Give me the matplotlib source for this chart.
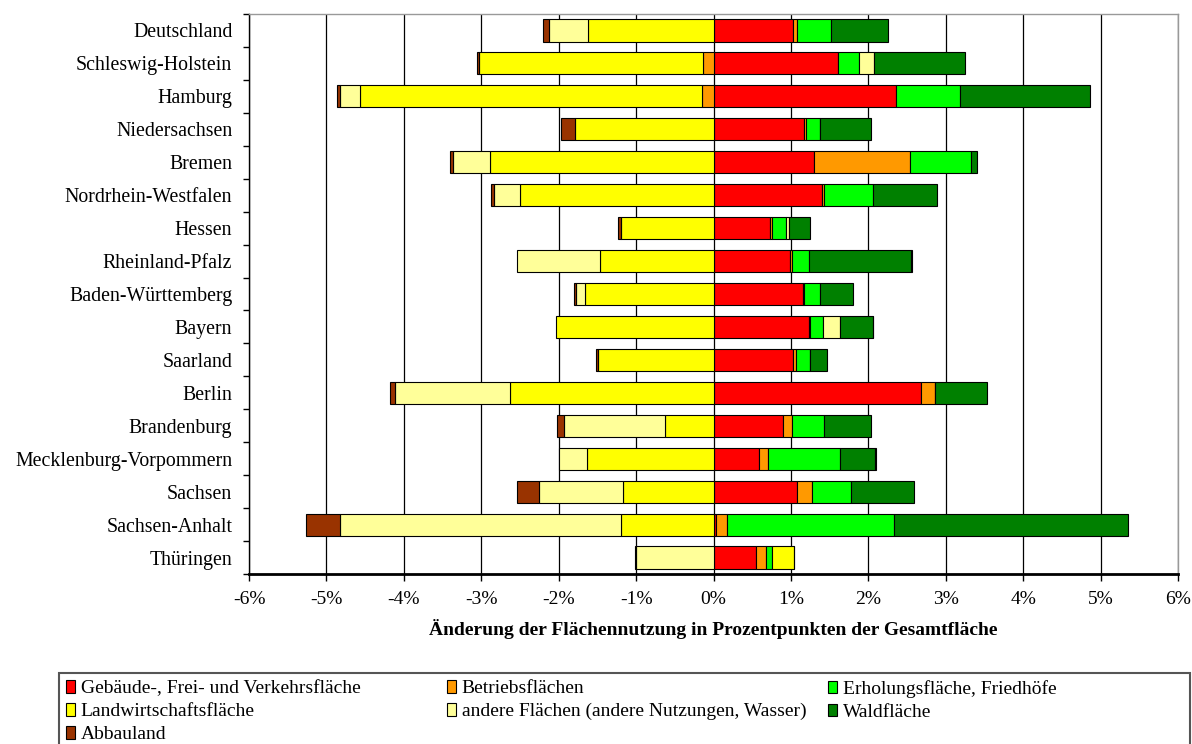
from matplotlib import pyplot as plt
from matplotlib.patches import Rectangle

plt.rcParams['font.family'] = ['Liberation Serif', 'DejaVu Serif']

states = ["Deutschland", "Schleswig-Holstein", "Hamburg", "Niedersachsen", "Bremen",
          "Nordrhein-Westfalen", "Hessen", "Rheinland-Pfalz", "Baden-Württemberg", "Bayern",
          "Saarland", "Berlin", "Brandenburg", "Mecklenburg-Vorpommern", "Sachsen",
          "Sachsen-Anhalt", "Thüringen"]

# change in percentage points of total area, per state (order as above)
gebaeude = [1.03, 1.61, 2.36, 1.17, 1.30, 1.40, 0.73, 0.99, 1.15, 1.23, 1.03, 2.68, 0.90, 0.59, 1.08, 0.03, 0.55]
betrieb = [0.05, -0.13, -0.15, 0.02, 1.24, 0.03, 0.03, 0.03, 0.02, 0.02, 0.03, 0.18, 0.12, 0.11, 0.19, 0.15, 0.13]
erholung = [0.44, 0.27, 0.83, 0.19, 0.79, 0.63, 0.18, 0.22, 0.20, 0.17, 0.19, 0.0, 0.41, 0.94, 0.51, 2.15, 0.08]
landw = [-1.62, -2.90, -4.42, -1.79, -2.89, -2.50, -1.20, -1.46, -1.66, -2.03, -1.49, -2.63, -0.63, -1.63, -1.17, -1.19, 0.28]
andere = [-0.51, 0.19, -0.25, 0.0, -0.48, -0.34, 0.03, -1.08, -0.11, 0.22, 0.0, -1.49, -1.30, -0.37, -1.09, -3.64, -1.00]
wald = [0.73, 1.18, 1.67, 0.65, 0.08, 0.83, 0.28, 1.31, 0.43, 0.42, 0.22, 0.67, 0.61, 0.44, 0.81, 3.02, 0.0]
abbau = [-0.07, -0.03, -0.04, -0.18, -0.03, -0.03, -0.03, 0.02, -0.03, 0.0, -0.03, -0.06, -0.09, 0.02, -0.28, -0.43, -0.02]

seriesNames = ["Gebäude-, Frei- und Verkehrsfläche", "Betriebsflächen", "Erholungsfläche, Friedhöfe",
               "Landwirtschaftsfläche", "andere Flächen (andere Nutzungen, Wasser)", "Waldfläche",
               "Abbauland"]
seriesValues = [gebaeude, betrieb, erholung, landw, andere, wald, abbau]
seriesColors = ["#ff0000", "#ff9900", "#00ff00", "#ffff00", "#ffff99", "#008000", "#993300"]

xTicks = [-6, -5, -4, -3, -2, -1, 0, 1, 2, 3, 4, 5, 6]
xTickLabels = ["-6%", "-5%", "-4%", "-3%", "-2%", "-1%", "0%", "1%", "2%", "3%", "4%", "5%", "6%"]
xLabel = "Änderung der Flächennutzung in Prozentpunkten der Gesamtfläche"

fig = plt.figure(figsize=(11.92, 7.44), dpi=100)
ax = fig.add_axes([249 / 1192, 170 / 744, 929 / 1192, 560 / 744])

ypos = list(range(len(states)))
posBase = [0.0] * len(states)
negBase = [0.0] * len(states)
handles = {}

for name, values, color in zip(seriesNames, seriesValues, seriesColors):
    lefts = []
    widths = []
    for i, v in enumerate(values):
        if v >= 0:
            lefts.append(posBase[i])
            posBase[i] += v
        else:
            lefts.append(negBase[i])
            negBase[i] += v
        widths.append(v)
    bars = ax.barh(ypos, widths, left=lefts, height=0.67, color=color,
                   edgecolor="black", linewidth=0.8, label=name, zorder=3)
    handles[name] = bars

ax.set_xlim(-6, 6)
ax.set_ylim(len(states) - 0.5, -0.5)
ax.set_xticks(xTicks)
ax.set_xticklabels(xTickLabels, fontsize=14)
ax.set_yticks(ypos)
ax.set_yticklabels(states, fontsize=14.3)
ax.set_yticks([i - 0.5 for i in range(len(states) + 1)], minor=True)
ax.tick_params(axis="y", which="major", length=0, pad=12)
ax.tick_params(axis="y", which="minor", length=4, width=1, color="black")
ax.tick_params(axis="x", which="major", length=5, width=1, pad=7)
ax.grid(axis="x", color="black", linewidth=0.9, zorder=0)
ax.set_axisbelow(True)
ax.set_xlabel(xLabel, fontsize=14, fontweight="bold", labelpad=8)

for side in ["top", "right"]:
    ax.spines[side].set_color("#999999")
    ax.spines[side].set_linewidth(1)
ax.spines["bottom"].set_linewidth(2)
ax.spines["left"].set_linewidth(1)

# legend: three columns of equal width, filled row by row
legendCols = [[seriesNames[0], seriesNames[3], seriesNames[6]],
              [seriesNames[1], seriesNames[4]],
              [seriesNames[2], seriesNames[5]]]
colX = [66, 447, 828]
for cx, names in zip(colX, legendCols):
    fig.legend([handles[n] for n in names], names, loc="upper left",
               bbox_to_anchor=(cx / 1192, 1 - 680 / 744), frameon=False,
               fontsize=14, borderpad=0, borderaxespad=0, handlelength=0.46,
               handleheight=0.62, handletextpad=0.3, labelspacing=0.3)

fig.patches.append(Rectangle((59 / 1192, -0.05), 1131 / 1192, 0.05 + 71 / 744,
                             transform=fig.transFigure, fill=False,
                             edgecolor="#555555", linewidth=1.5))

plt.savefig("out.png", dpi=100)
plt.close()
